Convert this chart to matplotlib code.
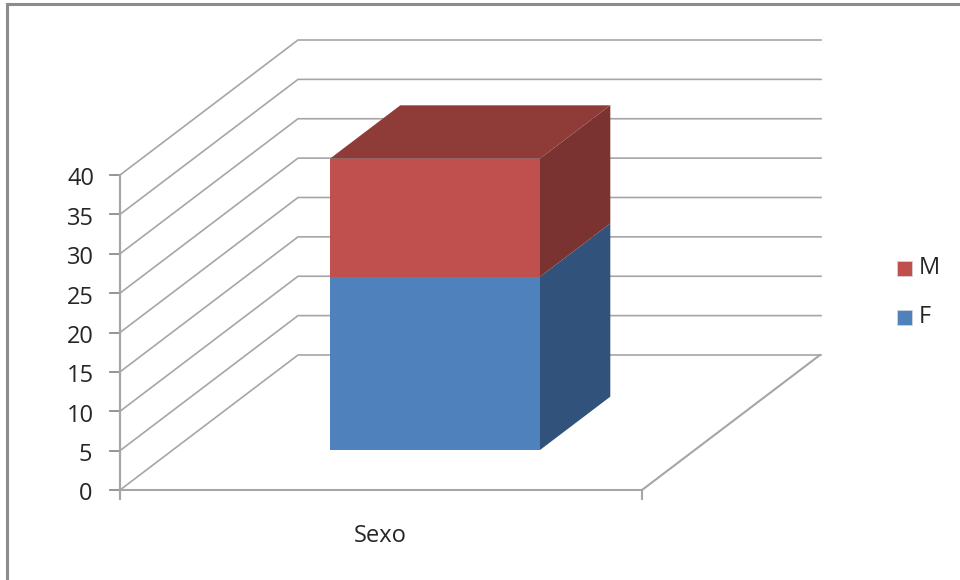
import matplotlib
matplotlib.use('Agg')
import matplotlib.pyplot as plt
from matplotlib.patches import Polygon, Rectangle

# stacked 3d column
category = 'Sexo'
series_names = ['F', 'M']
series_values = [22, 15]
series_colors = ['#4f81bd', '#c0504d']
side_colors = ['#31537b', '#7a3330']
top_colors = ['#3d6596', '#8f3c39']
y_ticks = [0, 5, 10, 15, 20, 25, 30, 35, 40]

plt.rcParams['font.family'] = ['Open Sans', 'DejaVu Sans']

GRID = '#a6a6a6'
TEXT = '#262626'
PX = 7.875              # pixels per unit on the value axis
X0, X1 = 120, 642       # front edge of the floor
DX, DY = 178, 135 / PX  # depth of the box
BAR_L, BAR_R = 330, 540
BAR_DEPTH = 0.395       # share of the box depth the column takes
BAR_BASE = 40 / PX      # where the column stands, seen from the front edge

fig = plt.figure(figsize=(9.6, 5.8), dpi=100)
ax = fig.add_axes([0, 0, 1, 1])
ax.set_xlim(0, 960)
ax.set_ylim(-90 / PX, 490 / PX)
ax.axis('off')

# frame of the image
ax.plot([7, 7, 960], [-90 / PX, 486 / PX, 486 / PX], color='#8c8c8c', lw=2.2,
        solid_joinstyle='miter')

# walls
for v in y_ticks:
    ax.plot([X0, X0 + DX, X1 + DX + 1], [v, v + DY, v + DY], color=GRID, lw=1.2)
    ax.plot([X0 - 10, X0], [v, v], color='#8c8c8c', lw=1.3)
    if v >= 10:
        ax.text(94, v - 4.5 / PX, str(v), ha='right', va='center', fontsize=17, color=TEXT)
    else:
        ax.text(85.5, v - 4.5 / PX, str(v), ha='center', va='center', fontsize=17, color=TEXT)
ax.plot([X0, X0], [y_ticks[0] - 9 / PX, y_ticks[-1]], color=GRID, lw=1.6)
ax.plot([X0, X1, X1 + DX], [0, 0, DY], color=GRID, lw=1.5)
ax.plot([X1, X1], [-9 / PX, 0], color=GRID, lw=1.5)

# column
bottom = BAR_BASE
dx = DX * BAR_DEPTH
dy = DY * BAR_DEPTH
for val, col, side, top in zip(series_values, series_colors, side_colors, top_colors):
    ax.add_patch(Rectangle((BAR_L, bottom), BAR_R - BAR_L, val, fc=col, ec='none', zorder=3))
    ax.add_patch(Polygon([(BAR_R, bottom), (BAR_R + dx, bottom + dy),
                          (BAR_R + dx, bottom + val + dy), (BAR_R, bottom + val)],
                         fc=side, ec='none', zorder=3))
    bottom += val
ax.add_patch(Polygon([(BAR_L, bottom), (BAR_R, bottom), (BAR_R + dx, bottom + dy),
                      (BAR_L + dx, bottom + dy)], fc=top_colors[-1], ec='none', zorder=3))

ax.text(380, -46 / PX, category, ha='center', va='center', fontsize=17, color=TEXT)

# legend, M goes on top
for name, col, ypx in zip(series_names, series_colors, [317.5, 268.5]):
    v = (490 - ypx) / PX
    ax.add_patch(Rectangle((897, v - 7.5 / PX), 14.5, 15 / PX, fc=col, ec='#d9d9d9', lw=0.5))
    ax.text(919, v + 0.5 / PX, name, ha='left', va='center', fontsize=17, color=TEXT)

fig.savefig('out.png', dpi=100)
